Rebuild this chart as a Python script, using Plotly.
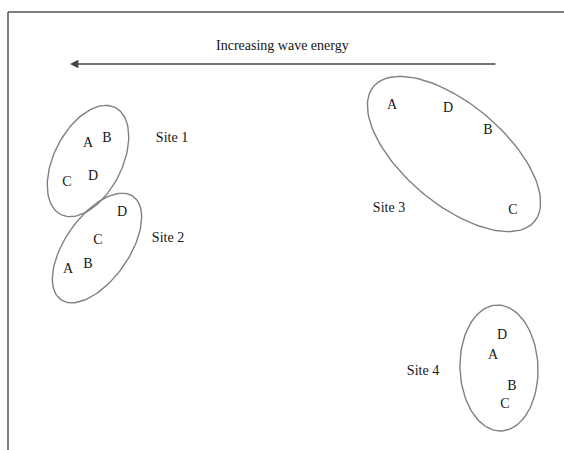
"""Ordination sketch: sample letters grouped by site, with enclosing ellipses."""

import numpy as np
import plotly.graph_objects as go

# sample scores (drawing units, y grows downwards)
letters = ["A", "B", "C", "D"]
site1_x = [88, 107, 67, 93]
site1_y = [143, 138, 182, 176]
site2_x = [68, 88, 98, 122]
site2_y = [269, 264, 240, 212]
site3_x = [392, 488, 513, 448]
site3_y = [105, 130, 210, 108]
site4_x = [493, 512, 505, 502]
site4_y = [355, 386, 404, 335]

site_names = ["Site 1", "Site 2", "Site 3", "Site 4"]
site_label_x = [172, 168, 389, 423]
site_label_y = [138, 238, 208, 371]

# enclosing ellipses: centre x, centre y, semi-major, semi-minor, tilt (deg)
ell_cx = [88, 97, 454, 499]
ell_cy = [161, 248, 154, 368]
ell_a = [60, 63, 105, 63]
ell_b = [34, 32, 50, 39]
ell_ang = [-63, -55, 40, 88]

FONT = "Liberation Serif"


def ellipse_xy(cx, cy, a, b, ang, n=120):
    t = np.linspace(0, 2 * np.pi, n)
    r = np.deg2rad(ang)
    x = cx + a * np.cos(t) * np.cos(r) - b * np.sin(t) * np.sin(r)
    y = cy + a * np.cos(t) * np.sin(r) + b * np.sin(t) * np.cos(r)
    return x, y


fig = go.Figure()

for i in range(4):
    ex, ey = ellipse_xy(ell_cx[i], ell_cy[i], ell_a[i], ell_b[i], ell_ang[i])
    fig.add_trace(
        go.Scatter(
            x=ex, y=ey, mode="lines",
            line=dict(color="#808080", width=1.4),
            hoverinfo="skip", showlegend=False,
        )
    )

for xs, ys in [(site1_x, site1_y), (site2_x, site2_y),
               (site3_x, site3_y), (site4_x, site4_y)]:
    fig.add_trace(
        go.Scatter(
            x=xs, y=ys, mode="text", text=letters,
            textfont=dict(family=FONT, size=14, color="#151515"),
            showlegend=False,
        )
    )

fig.add_trace(
    go.Scatter(
        x=site_label_x, y=site_label_y, mode="text", text=site_names,
        textfont=dict(family=FONT, size=14, color="#151515"),
        showlegend=False,
    )
)

# wave energy arrow
fig.add_annotation(
    x=70, y=64, ax=497, ay=64, xref="x", yref="y", axref="x", ayref="y",
    showarrow=True, arrowhead=2, arrowsize=1.2, arrowwidth=1.4,
    arrowcolor="#444444", text="",
)
fig.add_annotation(
    x=282, y=45, xref="x", yref="y", showarrow=False,
    text="Increasing wave energy",
    font=dict(family=FONT, size=14, color="#151515"),
)

# frame (left and top edges only)
fig.add_shape(type="line", xref="x", yref="y", x0=8, y0=12, x1=8, y1=450,
              line=dict(color="#555555", width=1.5))
fig.add_shape(type="line", xref="x", yref="y", x0=8, y0=12, x1=564, y1=12,
              line=dict(color="#555555", width=1.5))

fig.update_xaxes(range=[0, 564], visible=False, fixedrange=True)
fig.update_yaxes(range=[450, 0], visible=False, fixedrange=True)
fig.update_layout(
    width=564, height=450,
    margin=dict(l=0, r=0, t=0, b=0),
    plot_bgcolor="white", paper_bgcolor="white",
    showlegend=False,
)

# drop the browser's default body margin so the figure sits at the page corner
fig.write_html(
    "out.html",
    config={"displayModeBar": False},
    post_script="document.body.style.margin = '0';",
)
